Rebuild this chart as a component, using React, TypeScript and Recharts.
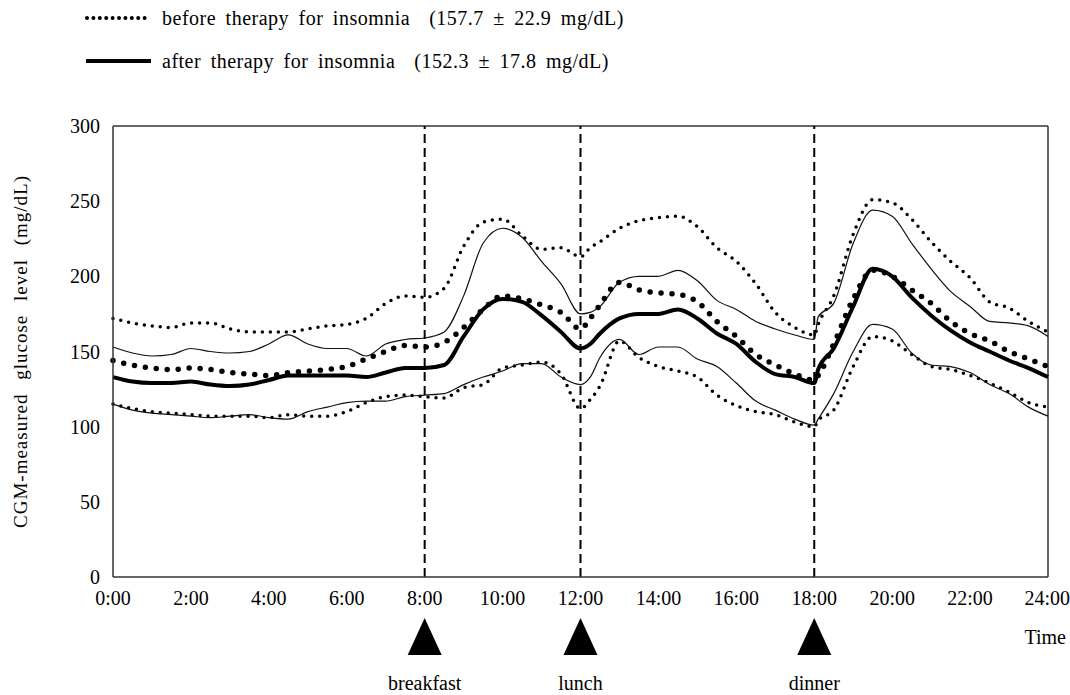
import React from "react";
import { LineChart, Line, XAxis, YAxis, ReferenceLine, Label } from "recharts";

const hours = [
  0, 0.5, 1, 1.5, 2, 2.5, 3, 3.5, 4, 4.5, 5, 5.5, 6, 6.5, 7, 7.5, 8, 8.5, 9, 9.5, 10, 10.5, 11, 11.5,
  12, 12.25, 12.5, 13, 13.5, 14, 14.5, 15, 15.5, 16, 16.5, 17, 17.5, 18, 18.1, 18.5, 19, 19.5, 20,
  20.5, 21, 21.5, 22, 22.5, 23, 23.5, 24,
];

const beforeUpper = [
  172, 169, 167, 166, 169, 169, 165, 163, 163, 163, 165, 167, 168, 172, 182, 187, 186, 192, 220, 236,
  238, 227, 218, 219, 213, 219, 223, 232, 237, 239, 240, 233, 219, 210, 195, 176, 166, 161, 168, 187,
  228, 251, 249, 238, 223, 210, 199, 183, 179, 170, 163,
];
const beforeMean = [
  144, 141, 139, 138, 139, 138, 136, 135, 134, 136, 137, 138, 140, 145, 150, 154, 153, 156, 166, 178,
  187, 185, 181, 176, 165, 172, 181, 196, 191, 189, 188, 183, 170, 160, 148, 141, 135, 131, 134, 155,
  185, 204, 200, 191, 182, 170, 162, 157, 150, 145, 140,
];
const beforeLower = [
  115, 112, 110, 109, 108, 107, 107, 107, 106, 108, 107, 107, 110, 116, 120, 121, 120, 119, 126, 128,
  139, 141, 143, 135, 112, 118, 127, 157, 146, 140, 137, 133, 121, 114, 110, 108, 103, 100, 104, 111,
  140, 160, 157, 148, 140, 138, 134, 129, 123, 116, 113,
];
const afterUpper = [
  153, 149, 147, 148, 152, 150, 149, 150, 155, 161, 155, 152, 152, 147, 155, 158, 159, 163, 187, 222,
  232, 226, 210, 195, 175, 176, 180, 196, 200, 200, 204, 197, 184, 178, 170, 165, 161, 158, 173, 182,
  222, 244, 240, 222, 205, 190, 180, 170, 169, 167, 160,
];
const afterMean = [
  133, 130, 129, 129, 130, 128, 127, 128, 131, 134, 134, 134, 134, 133, 136, 139, 139, 141, 160, 178,
  185, 183, 174, 163, 152, 155, 162, 172, 175, 175, 178, 172, 162, 155, 143, 135, 133, 129, 138, 152,
  180, 205, 200, 186, 174, 164, 156, 150, 144, 139, 133,
];
const afterLower = [
  115, 111, 109, 108, 107, 106, 107, 108, 106, 105, 110, 113, 116, 117, 117, 120, 121, 122, 128, 133,
  137, 142, 142, 133, 128, 133, 146, 158, 148, 153, 153, 145, 140, 129, 117, 111, 105, 101, 105, 122,
  150, 168, 165, 149, 141, 140, 136, 128, 122, 113, 107,
];

const xTicks = [0, 2, 4, 6, 8, 10, 12, 14, 16, 18, 20, 22, 24];
const yTicks = [0, 50, 100, 150, 200, 250, 300];
const meals = [
  { hour: 8, name: "breakfast" },
  { hour: 12, name: "lunch" },
  { hour: 18, name: "dinner" },
];

const data = hours.map((h, i) => ({
  h,
  bu: beforeUpper[i],
  bm: beforeMean[i],
  bl: beforeLower[i],
  au: afterUpper[i],
  am: afterMean[i],
  al: afterLower[i],
}));

const FONT = '"Liberation Serif", "Times New Roman", serif';

const MealMarker = ({ viewBox, name }: any) => {
  if (!viewBox) return null;
  const x = viewBox.x;
  const bottom = viewBox.y + viewBox.height;
  return (
    <g>
      <polygon points={`${x},${bottom + 41} ${x - 17},${bottom + 78} ${x + 17},${bottom + 78}`} fill="#000" />
      <text x={x} y={bottom + 113} textAnchor="middle" fontFamily={FONT} fontSize={20} fill="#000">
        {name}
      </text>
    </g>
  );
};

const TimeLabel = ({ viewBox }: any) => {
  if (!viewBox) return null;
  return (
    <text x={viewBox.x + viewBox.width + 18} y={viewBox.y + 67} textAnchor="end" fontFamily={FONT} fontSize={20} fill="#000">
      Time
    </text>
  );
};

const LegendRow = ({ dotted, text, top }: { dotted: boolean; text: string; top: number }) => (
  <div style={{ position: "absolute", left: 84, top, display: "flex", alignItems: "center" }}>
    <svg width={70} height={10}>
      {dotted ? (
        <line x1={3} y1={5} x2={67} y2={5} stroke="#000" strokeWidth={4} strokeDasharray="0 6.4" strokeLinecap="round" />
      ) : (
        <line x1={2} y1={5} x2={67} y2={5} stroke="#000" strokeWidth={4} />
      )}
    </svg>
    <span
      style={{
        marginLeft: 8,
        fontFamily: FONT,
        fontSize: 20,
        letterSpacing: 0.5,
        wordSpacing: 4,
        whiteSpace: "pre",
        lineHeight: "24px",
      }}
    >
      {text}
    </span>
  </div>
);

export default function App() {
  return (
    <div style={{ position: "relative", width: 1070, height: 695, background: "#fff" }}>
      <style>{"body{margin:0}"}</style>
      <LegendRow dotted top={6} text={"before therapy for insomnia  (157.7 \u00b1 22.9 mg/dL)"} />
      <LegendRow dotted={false} top={49} text={"after therapy for insomnia  (152.3 \u00b1 17.8 mg/dL)"} />
      <LineChart width={1070} height={695} data={data} margin={{ top: 126, right: 22, bottom: 0, left: 0 }}>
        <XAxis
          dataKey="h"
          type="number"
          domain={[0, 24]}
          ticks={xTicks}
          tickFormatter={(v: number) => `${v}:00`}
          height={118}
          tickLine={false}
          tickSize={0}
          tickMargin={14}
          axisLine={{ stroke: "#333", strokeWidth: 1.5 }}
          tick={{ fill: "#000", fontFamily: FONT, fontSize: 20 }}
        >
          <Label content={<TimeLabel />} />
        </XAxis>
        <YAxis
          type="number"
          domain={[0, 300]}
          ticks={yTicks}
          width={113}
          tickLine={false}
          tickSize={0}
          tickMargin={13}
          axisLine={{ stroke: "#333", strokeWidth: 1.5 }}
          tick={{ fill: "#000", fontFamily: FONT, fontSize: 20 }}
        >
          <Label
            value="CGM-measured glucose level (mg/dL)"
            angle={-90}
            position="insideLeft"
            offset={20}
            style={{
              textAnchor: "middle",
              fontFamily: FONT,
              fontSize: 19,
              letterSpacing: 1,
              wordSpacing: 8,
              fill: "#000",
            }}
          />
        </YAxis>
        <ReferenceLine y={300} stroke="#333" strokeWidth={1.5} />
        <ReferenceLine x={24} stroke="#333" strokeWidth={1.5} />
        {meals.map((m) => (
          <ReferenceLine
            key={m.name}
            x={m.hour}
            stroke="#000"
            strokeWidth={2}
            strokeDasharray="9 5"
            label={<MealMarker name={m.name} />}
          />
        ))}
        <Line type="monotone" dataKey="bu" stroke="#000" strokeWidth={3.5} strokeDasharray="0 8" strokeLinecap="round" dot={false} isAnimationActive={false} />
        <Line type="monotone" dataKey="bl" stroke="#000" strokeWidth={3.5} strokeDasharray="0 8" strokeLinecap="round" dot={false} isAnimationActive={false} />
        <Line type="monotone" dataKey="au" stroke="#111" strokeWidth={1.2} dot={false} isAnimationActive={false} />
        <Line type="monotone" dataKey="al" stroke="#111" strokeWidth={1.2} dot={false} isAnimationActive={false} />
        <Line type="monotone" dataKey="bm" stroke="#000" strokeWidth={5.5} strokeDasharray="0 11" strokeLinecap="round" dot={false} isAnimationActive={false} />
        <Line type="monotone" dataKey="am" stroke="#000" strokeWidth={4} dot={false} isAnimationActive={false} />
      </LineChart>
    </div>
  );
}
